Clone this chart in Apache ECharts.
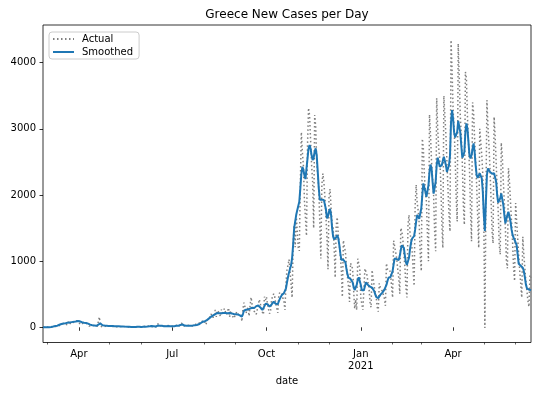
<!DOCTYPE html>
<html>
<head>
<meta charset="utf-8">
<script src="https://cdn.jsdelivr.net/npm/echarts@6/dist/echarts.min.js"></script>
<style>
html,body{margin:0;padding:0;background:#fff;}
#chart{width:550px;height:395px;}
</style>
</head>
<body>
<div id="chart"></div>
<script>
// First day of the daily series (Greece), one value per day
const startDate = '2020-02-26';

// Actual reported new cases per day (weekly rows, Mon..Sun after the first partial week)
const actual = [
  1,2,0,0,3,
  0,1,2,0,22,14,28,
  11,6,10,32,27,38,46,
  21,57,31,46,31,35,94,
  71,48,78,71,74,78,95,
  102,108,69,90,41,62,62,
  81,58,54,56,39,20,29,
  20,16,29,32,20,12,14,
  12,156,15,21,8,8,10,
  20,22,18,24,15,19,21,
  10,15,22,10,6,17,15,
  9,10,16,11,4,10,10,
  4,16,3,2,6,3,6,
  2,8,5,3,22,2,3,
  2,8,15,5,9,7,15,
  4,20,19,12,30,3,15,
  3,10,55,25,18,20,26,
  7,19,19,13,15,28,16,
  8,23,14,18,12,23,30,
  18,16,28,30,65,42,20,
  13,25,16,30,18,26,23,
  18,33,21,25,47,42,47,
  28,75,57,78,110,85,75,
  41,110,121,124,153,203,151,
  126,150,262,156,254,230,217,
  163,269,217,235,284,228,192,
  168,293,157,251,197,215,135,
  152,196,236,244,178,149,177,
  89,274,372,308,213,233,305,
  169,331,453,338,314,243,243,
  196,269,338,421,355,280,229,
  193,461,411,460,339,313,206,
  253,426,462,507,465,359,289,
  218,484,530,536,508,438,388,
  261,660,882,934,1027,841,865,
  448,1259,1547,1211,1690,1694,1202,
  1155,2166,2950,2646,2448,1920,1914,
  1383,2752,3316,3209,2835,2456,2198,
  1498,3210,3037,2500,2300,2100,1580,
  1039,2152,2325,2195,1963,1670,1357,
  879,1982,2090,1795,1559,1507,1205,
  750,1531,1662,1395,1251,1084,870,
  459,1315,1209,1143,917,768,614,
  384,970,925,886,564,279,420,
  262,1036,963,885,442,444,262,
  268,888,860,790,682,592,380,
  302,865,745,622,543,460,305,
  237,664,605,590,544,536,435,
  325,967,880,877,875,813,617,
  450,1309,1226,1216,1044,880,747,
  507,1500,1452,1326,1100,915,607,
  450,1547,1698,1426,1318,1184,884,
  627,1836,2155,1882,1759,1559,1081,
  850,2850,2702,2300,2050,1900,1400,
  1000,3215,2900,2500,2250,2000,1450,
  1150,3465,3000,2700,2550,2200,1600,
  1200,3500,3200,2900,2500,2100,1700,
  1450,4340,3900,3300,3000,2600,1950,
  1600,4290,3800,3200,2900,2500,1850,
  1550,3860,3766,3200,2800,2400,1750,
  1300,3400,3250,2850,2500,2150,1650,
  1200,3000,2800,2600,2300,1550,-10,
  1850,3434,3050,2750,2400,1950,1450,
  1269,3181,2900,2500,2100,1750,1250,
  1100,2789,2600,2200,1900,1500,1000,
  891,2406,2200,1900,1600,1300,900,
  700,1878,1600,1350,1100,850,650,
  450,1369,1100,900,700,550,400,
  311,790,750
];

// Smoothed new cases per day (same days)
const smoothed = [
  1,1,1,1,2,
  2,2,3,5,8,11,15,
  18,20,24,30,38,45,50,
  52,56,58,62,66,70,72,
  74,76,78,80,82,85,88,
  92,95,94,90,82,76,72,
  70,68,65,60,55,48,40,
  36,32,30,28,24,22,26,
  40,62,58,45,30,28,26,
  25,23,21,20,20,20,20,
  19,18,16,15,14,14,14,
  12,12,11,11,10,10,9,
  9,8,7,6,5,5,5,
  5,5,6,8,9,7,5,
  5,6,8,9,9,10,11,
  12,14,17,18,17,16,14,
  12,18,26,28,24,22,22,
  20,17,16,16,18,19,18,
  17,16,16,16,17,20,22,
  22,22,26,36,45,42,32,
  26,22,24,24,24,24,25,
  25,26,27,29,32,35,38,
  45,55,65,75,85,88,92,
  100,110,122,135,150,160,170,
  180,190,200,210,215,215,212,
  210,212,214,216,218,215,210,
  212,214,215,213,210,205,200,
  200,198,196,194,190,180,170,
  160,200,250,265,265,265,270,
  275,282,290,295,298,290,300,
  320,335,330,315,300,280,262,
  280,320,355,362,350,330,312,
  320,345,370,387,380,355,337,
  350,390,430,460,490,510,515,
  530,590,680,760,830,890,940,
  1050,1250,1500,1600,1700,1770,1800,
  1900,2100,2320,2426,2380,2300,2240,
  2400,2550,2700,2754,2700,2600,2527,
  2560,2660,2704,2600,2350,2100,1930,
  1940,1930,1923,1923,1900,1780,1646,
  1680,1750,1790,1700,1500,1370,1330,
  1330,1360,1394,1350,1250,1120,1020,
  1010,1020,1027,980,880,800,750,
  740,730,715,680,610,563,580,
  640,720,755,740,640,560,540,
  560,620,680,665,640,625,615,
  605,600,590,550,500,460,438,
  440,460,490,510,525,550,570,
  589,640,700,750,755,760,764,
  850,950,1042,1050,1030,1017,1017,
  1080,1170,1240,1269,1200,1080,980,
  945,941,1050,1180,1280,1340,1350,
  1380,1480,1600,1700,1696,1640,1650,
  1800,2000,2175,2150,2050,1973,2000,
  2150,2350,2460,2400,2200,2020,1998,
  2200,2450,2565,2500,2426,2400,2450,
  2520,2577,2560,2450,2350,2380,2450,
  2600,3100,3282,3150,2950,2870,2900,
  2950,3120,3100,2950,2750,2565,2600,
  2650,2950,3082,3000,2800,2600,2553,
  2600,2700,2779,2650,2450,2300,2260,
  2280,2326,2326,2250,2050,1700,1455,
  1900,2300,2402,2390,2350,2330,2320,
  2320,2330,2326,2200,2000,1885,1900,
  1950,2024,2000,1850,1700,1571,1600,
  1700,1746,1720,1600,1480,1400,1355,
  1320,1290,1243,1100,960,941,930,
  915,900,850,760,650,589,580,
  570,565,560
];

const seriesNames = ['Actual', 'Smoothed'];
const yTicks = [0, 1000, 2000, 3000, 4000];
const xMajorTickDates = ['2020-04-01','2020-07-01','2020-10-01','2021-01-01','2021-04-01'];
const xMajorTickLabels = ['Apr','Jul','Oct','Jan\n2021','Apr'];
const xMinorTickDates = ['2020-03-01','2020-05-01','2020-06-01','2020-08-01','2020-09-01',
  '2020-11-01','2020-12-01','2021-02-01','2021-03-01','2021-05-01','2021-06-01'];

const DAY = 86400000;
function ts(s) { const p = s.split('-').map(Number); return Date.UTC(p[0], p[1]-1, p[2]); }
const t0 = ts(startDate);
const tEnd = t0 + (actual.length - 1) * DAY;
const majorVals = xMajorTickDates.map(ts);
const minorVals = xMinorTickDates.map(ts);
const labelOf = {};
majorVals.forEach((v, i) => { labelOf[v] = xMajorTickLabels[i]; });

const FONT = 'DejaVu Sans';
const chart = echarts.init(document.getElementById('chart'), null, {renderer: 'canvas'});
chart.setOption({
  animation: false,
  backgroundColor: '#ffffff',
  title: {
    text: 'Greece New Cases per Day',
    left: 287, top: 8.5, padding: 0, textAlign: 'center',
    textStyle: {fontFamily: FONT, fontSize: 12, fontWeight: 'normal', color: '#000'}
  },
  legend: {
    orient: 'vertical', left: 49, top: 32,
    padding: [2, 6, 2, 3], itemGap: 3, itemWidth: 21, itemHeight: 12,
    borderColor: '#cccccc', borderWidth: 1, borderRadius: 3,
    backgroundColor: 'rgba(255,255,255,0.8)',
    itemStyle: {color: 'rgba(0,0,0,0)', borderColor: 'rgba(0,0,0,0)', borderWidth: 0, opacity: 0},
    textStyle: {fontFamily: FONT, fontSize: 10, color: '#000', padding: [0, 0, 0, 3]},
    data: seriesNames
  },
  grid: {left: 43, right: 19, top: 25, bottom: 52.5, show: true, borderColor: '#000', borderWidth: 0.8, backgroundColor: 'transparent'},
  xAxis: [
    {
      type: 'value', min: t0, max: tEnd, gridIndex: 0, position: 'bottom',
      name: 'date', nameLocation: 'middle', nameGap: 33,
      nameTextStyle: {fontFamily: FONT, fontSize: 10, color: '#000'},
      axisLine: {show: false},
      splitLine: {show: false},
      axisTick: {show: true, customValues: majorVals, length: 3.5, lineStyle: {color: '#000', width: 0.8}},
      axisLabel: {show: true, customValues: majorVals, margin: 5.5,
        fontFamily: FONT, fontSize: 10, color: '#000', lineHeight: 12,
        formatter: v => labelOf[v] || ''}
    },
    {
      type: 'value', min: t0, max: tEnd, gridIndex: 0, position: 'bottom',
      axisLine: {show: false},
      splitLine: {show: false},
      axisTick: {show: true, customValues: minorVals, length: 2, lineStyle: {color: '#000', width: 0.6}},
      axisLabel: {show: false}
    }
  ],
  yAxis: {
    type: 'value', min: -230, max: 4570,
    axisLine: {show: false},
    splitLine: {show: false},
    axisTick: {show: true, customValues: yTicks, length: 3.5, lineStyle: {color: '#000', width: 0.8}},
    axisLabel: {show: true, customValues: yTicks, margin: 7, fontFamily: FONT, fontSize: 10, color: '#000',
      formatter: v => String(v)}
  },
  series: [
    {
      name: seriesNames[0], type: 'line', xAxisIndex: 0, symbol: 'none',
      data: actual.map((v, i) => [t0 + i * DAY, v]),
      lineStyle: {color: '#808080', width: 1.5, type: [1.5, 2.5]},
      itemStyle: {color: '#808080'}
    },
    {
      name: seriesNames[1], type: 'line', xAxisIndex: 0, symbol: 'none',
      data: smoothed.map((v, i) => [t0 + i * DAY, v]),
      lineStyle: {color: '#1f77b4', width: 2},
      itemStyle: {color: '#1f77b4'}
    }
  ]
});
</script>
</body>
</html>
